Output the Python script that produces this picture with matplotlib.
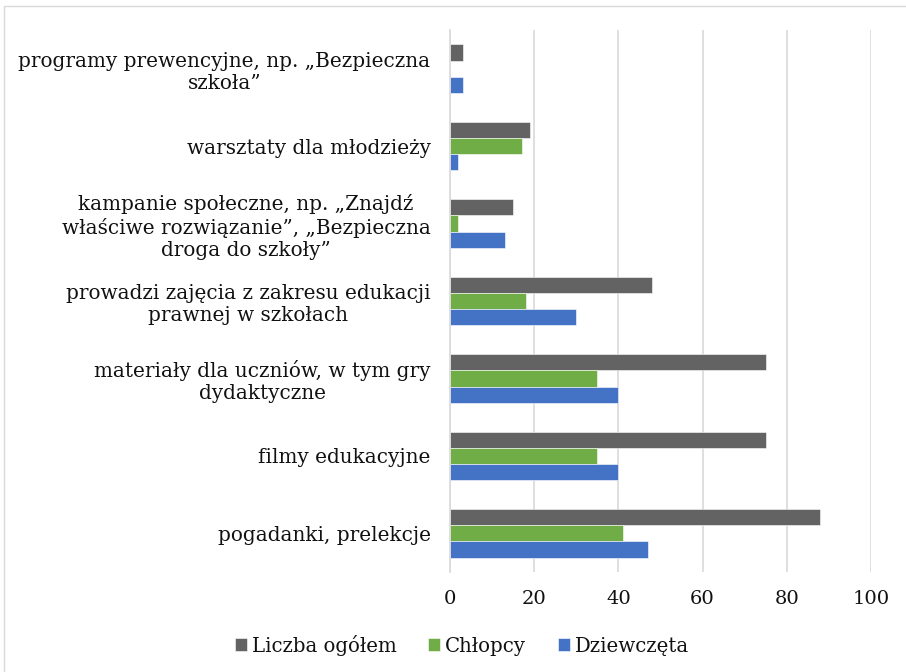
import matplotlib
matplotlib.use("Agg")
import matplotlib.pyplot as plt
from matplotlib.patches import Rectangle
import numpy as np

categories = [
    "pogadanki, prelekcje",
    "filmy edukacyjne",
    "materiały dla uczniów, w tym gry\ndydaktyczne",
    "prowadzi zajęcia z zakresu edukacji\nprawnej w szkołach",
    "kampanie społeczne, np. „Znajdź\nwłaściwe rozwiązanie”, „Bezpieczna\ndroga do szkoły”",
    "warsztaty dla młodzieży",
    "programy prewencyjne, np. „Bezpieczna\nszkoła”",
]
ogolem = [88, 75, 75, 48, 15, 19, 3]
chlopcy = [41, 35, 35, 18, 2, 17, 0]
dziewczeta = [47, 40, 40, 30, 13, 2, 3]
series_names = ["Liczba ogółem", "Chłopcy", "Dziewczęta"]
colors = ["#636363", "#70AD47", "#4472C4"]
xticks = [0, 20, 40, 60, 80, 100]

plt.rcParams['font.family'] = ['DejaVu Serif']

fig = plt.figure(figsize=(9.06, 6.72), dpi=100)
ax = fig.add_axes([450/906, 1-572/672, 421/906, (572-30)/672])

y = np.arange(len(categories))
h = 0.209
data = [ogolem, chlopcy, dziewczeta]
offsets = [h, 0, -h]
for vals, off, c, name in zip(data, offsets, colors, series_names):
    ax.barh(y + off, vals, height=h, color=c, label=name,
            edgecolor="white", linewidth=0.4, zorder=3)

ax.set_xlim(0, 100)
ax.set_ylim(-0.5, len(categories) - 0.5)
ax.set_xticks(xticks)
ax.set_xticklabels([str(t) for t in xticks], fontsize=14, color='#111111')
ax.set_yticks(y)
ax.set_yticklabels(categories, fontsize=14.4, color='#111111')
for lab in ax.get_yticklabels():
    lab.set_multialignment('center')
ax.tick_params(axis='both', length=0)
ax.tick_params(axis='x', pad=13)
ax.tick_params(axis='y', pad=14)
ax.grid(axis='x', color='#d9d9d9', linewidth=1.2, zorder=0)
for s in ['top', 'right', 'bottom']:
    ax.spines[s].set_visible(False)
ax.spines['left'].set_color('#d9d9d9')
ax.spines['left'].set_linewidth(1.2)
ax.spines['left'].set_zorder(4)

leg = fig.legend(loc='center', bbox_to_anchor=(462/906, 1-645/672), ncol=3,
                 frameon=False, fontsize=14.2, handlelength=0.6, handleheight=0.6,
                 handletextpad=0.25, columnspacing=1.6)
for t in leg.get_texts():
    t.set_color('#111111')

fig.patches.append(Rectangle((4/906, -0.1), 1.2, (1-6/672)+0.1,
                             transform=fig.transFigure, fill=False,
                             edgecolor='#d9d9d9', linewidth=1.0))

fig.savefig("out.png", dpi=100)
